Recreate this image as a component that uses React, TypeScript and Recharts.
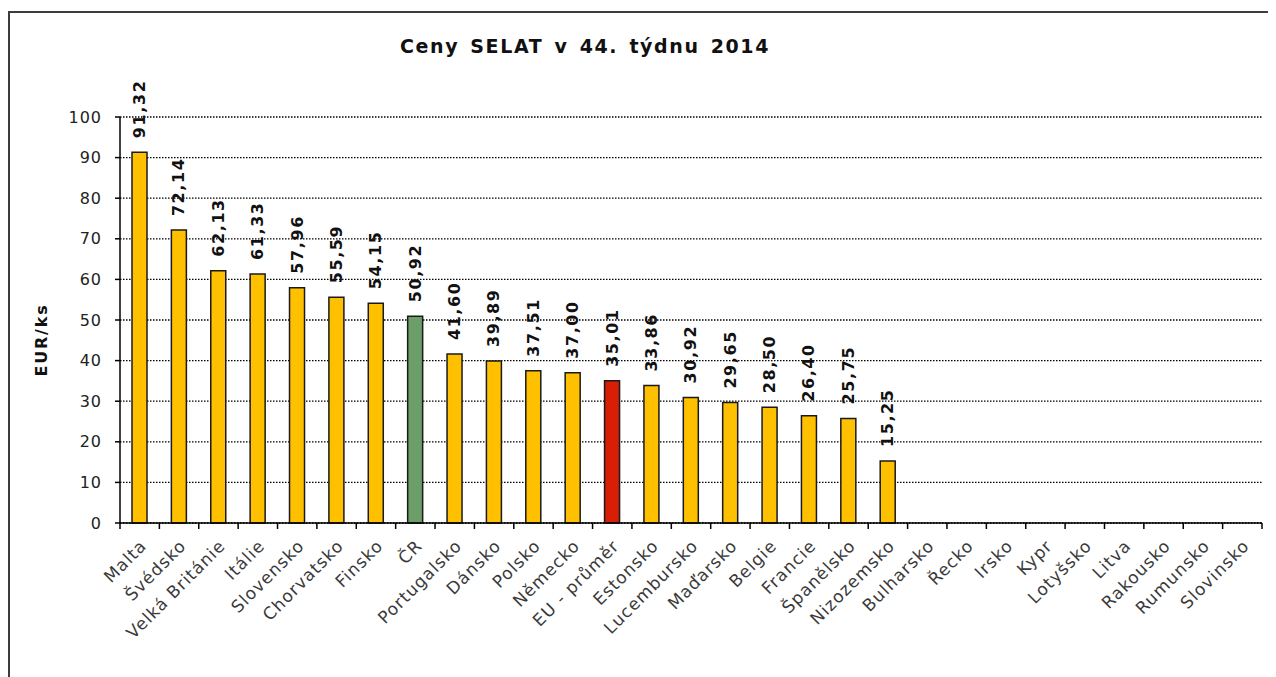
import { Bar, BarChart, CartesianGrid, Cell, LabelList, XAxis, YAxis } from 'recharts';

const countries = [
  'Malta', 'Švédsko', 'Velká Británie', 'Itálie', 'Slovensko', 'Chorvatsko', 'Finsko', 'ČR',
  'Portugalsko', 'Dánsko', 'Polsko', 'Německo', 'EU - průměr', 'Estonsko', 'Lucembursko',
  'Maďarsko', 'Belgie', 'Francie', 'Španělsko', 'Nizozemsko', 'Bulharsko', 'Řecko', 'Irsko',
  'Kypr', 'Lotyšsko', 'Litva', 'Rakousko', 'Rumunsko', 'Slovinsko',
];

const prices: (number | null)[] = [
  91.32, 72.14, 62.13, 61.33, 57.96, 55.59, 54.15, 50.92, 41.6, 39.89, 37.51, 37.0, 35.01,
  33.86, 30.92, 29.65, 28.5, 26.4, 25.75, 15.25, null, null, null, null, null, null, null, null, null,
];

const yTicks = [0, 10, 20, 30, 40, 50, 60, 70, 80, 90, 100];

const TITLE = 'Ceny SELAT v 44. týdnu 2014';
const Y_LABEL = 'EUR/ks';

const HOME = 'ČR';
const EU_AVG = 'EU - průměr';

const FONT = '"DejaVu Sans", Verdana, sans-serif';
const BAR_YELLOW = '#FFC000';
const BAR_GREEN = '#6C9E6A';
const BAR_RED = '#D81E05';

const CHART_W = 1268;
const CHART_H = 669;
const MARGIN = { top: 109, right: 14, left: 0, bottom: 0 };
const Y_AXIS_W = 112;
const X_AXIS_H = 154;

const data = countries.map((name, i) => ({ name, price: prices[i] }));

function barColor(name: string) {
  if (name === HOME) return BAR_GREEN;
  if (name === EU_AVG) return BAR_RED;
  return BAR_YELLOW;
}

function formatPrice(v: number) {
  return v.toFixed(2).replace('.', ',');
}

function CountryTick(props: any) {
  const { x, y, payload, index } = props;
  const plotW = CHART_W - MARGIN.left - MARGIN.right - Y_AXIS_W;
  const half = payload?.offset || plotW / countries.length / 2;
  const isLast = index === countries.length - 1;
  const tx = x + 8;
  const ty = y + 24;
  return (
    <g>
      <line x1={x - half} x2={x - half} y1={y} y2={y + 6} stroke="#000" strokeWidth={1.5} />
      {isLast && (
        <line x1={x + half} x2={x + half} y1={y} y2={y + 6} stroke="#000" strokeWidth={1.5} />
      )}
      <text
        x={tx}
        y={ty}
        textAnchor="end"
        transform={`rotate(-45, ${tx}, ${ty})`}
        fontFamily={FONT}
        fontSize={17}
        letterSpacing={1}
        fill="#3a3a3a"
      >
        {payload.value}
      </text>
    </g>
  );
}

function PriceLabel(props: any) {
  const { x, y, width, value } = props;
  if (value == null) return null;
  const cx = x + width / 2 + 5.5;
  const ty = y - 14;
  return (
    <text
      x={cx}
      y={ty}
      transform={`rotate(-90, ${cx}, ${ty})`}
      fontFamily={FONT}
      fontSize={16}
      fontWeight="bold"
      letterSpacing={1.6}
      fill="#111"
    >
      {formatPrice(Number(value))}
    </text>
  );
}

export default function App() {
  return (
    <div
      style={{
        position: 'relative',
        width: CHART_W,
        height: CHART_H,
        overflow: 'hidden',
        background: '#fff',
        fontFamily: FONT,
      }}
    >
      <div
        style={{
          position: 'absolute',
          left: 0,
          top: 3,
          width: CHART_W + 40,
          height: CHART_H + 40,
          borderTop: '2px solid #3c3c3c',
          borderLeft: '2px solid #3c3c3c',
        }}
      />
      <div
        style={{
          position: 'absolute',
          left: 377,
          width: 400,
          top: 27,
          textAlign: 'center',
          fontSize: 19,
          fontWeight: 'bold',
          letterSpacing: 1.6,
          wordSpacing: 3,
          color: '#111',
          whiteSpace: 'nowrap',
        }}
      >
        {TITLE}
      </div>
      <div
        style={{
          position: 'absolute',
          left: 34 - 60,
          top: 332 - 10,
          width: 120,
          height: 20,
          lineHeight: '20px',
          textAlign: 'center',
          transform: 'rotate(-90deg)',
          fontSize: 16,
          fontWeight: 'bold',
          letterSpacing: 1.8,
          color: '#111',
        }}
      >
        {Y_LABEL}
      </div>
      <div style={{ position: 'absolute', left: 0, top: 0 }}>
        <BarChart width={CHART_W} height={CHART_H} data={data} margin={MARGIN}>
          <CartesianGrid
            vertical={false}
            stroke="#000"
            strokeWidth={1.3}
            strokeDasharray="1.5 1.5"
          />
          <XAxis
            dataKey="name"
            interval={0}
            height={X_AXIS_H}
            tickLine={false}
            tickSize={0}
            tickMargin={0}
            axisLine={{ stroke: '#000', strokeWidth: 1.5 }}
            tick={<CountryTick />}
          />
          <YAxis
            width={Y_AXIS_W}
            domain={[0, 100]}
            ticks={yTicks}
            interval={0}
            tickSize={5}
            tickMargin={13}
            axisLine={{ stroke: '#000', strokeWidth: 1.5 }}
            tickLine={{ stroke: '#000', strokeWidth: 1.5 }}
            tick={{ fill: '#222', fontSize: 16, fontFamily: FONT, letterSpacing: 1 }}
          />
          <Bar dataKey="price" barSize={15} stroke="#1a1a1a" strokeWidth={1.5} isAnimationActive={false}>
            {data.map((d) => (
              <Cell key={d.name} fill={barColor(d.name)} />
            ))}
            <LabelList dataKey="price" content={<PriceLabel />} />
          </Bar>
        </BarChart>
      </div>
    </div>
  );
}
